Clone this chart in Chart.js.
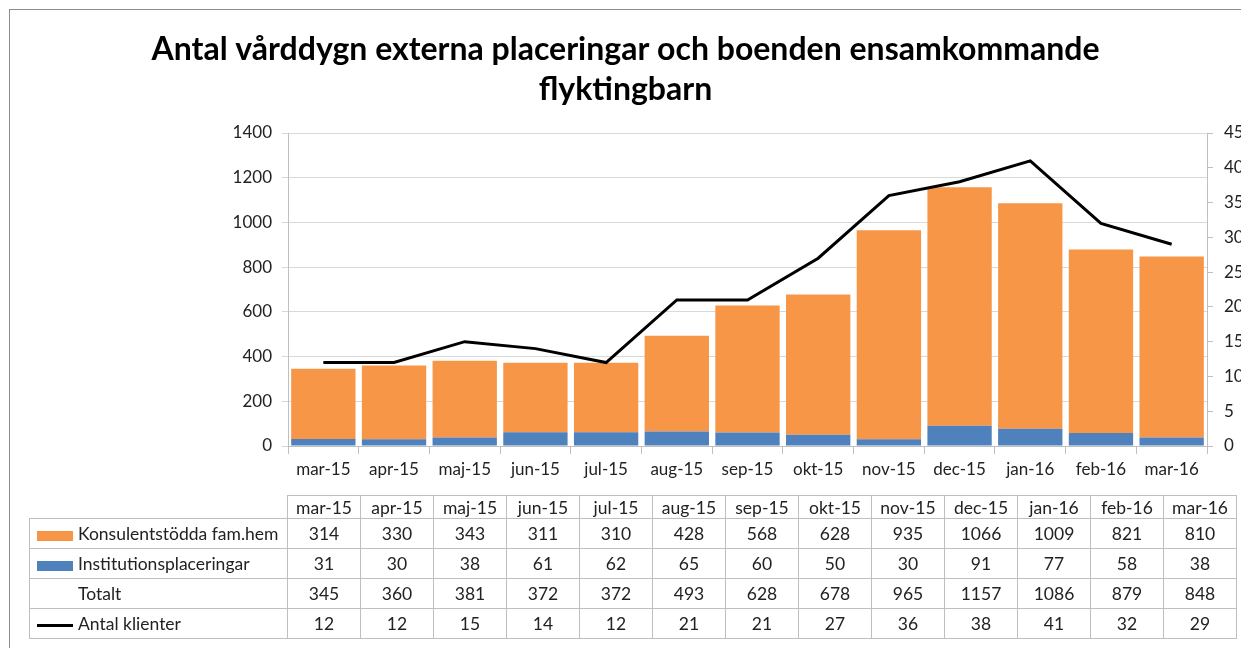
<!DOCTYPE html>
<html>
<head>
<meta charset="utf-8">
<script src="https://cdn.jsdelivr.net/npm/chart.js@4"></script>
<style>
  html, body { margin: 0; padding: 0; background: #fff; overflow: hidden; }
  #wrap { position: relative; width: 1241px; height: 648px; }
  #frame { position: absolute; left: 9px; top: 9px; width: 1300px; height: 700px; border: 1.5px solid #8c8c8c; box-sizing: border-box; }
  canvas { position: absolute; left: 0; top: 0; }
  #tbl { position: absolute; left: 29px; top: 495px; border-collapse: collapse; font-family: Lato, sans-serif; font-size: 17.5px; color: #222; }
  #tbl td { border: 1px solid #bfbfbf; text-align: center; padding: 0; height: 29px; width: 72px; }
  #tbl tr.head td { height: 22px; }
  #tbl td.lbl { text-align: left; width: 257px; white-space: nowrap; }
  #tbl td.blank { border: none; }
  .key { display: inline-block; width: 36px; margin: 0 5px 0 7px; vertical-align: middle; }
</style>
</head>
<body>
<div id="wrap">
  <div id="frame"></div>
  <canvas id="myChart" width="1241" height="648"></canvas>
  <table id="tbl"></table>
</div>
<script>
const months = ['mar-15', 'apr-15', 'maj-15', 'jun-15', 'jul-15', 'aug-15', 'sep-15', 'okt-15', 'nov-15', 'dec-15', 'jan-16', 'feb-16', 'mar-16'];
const konsulent = [314, 330, 343, 311, 310, 428, 568, 628, 935, 1066, 1009, 821, 810];
const institution = [31, 30, 38, 61, 62, 65, 60, 50, 30, 91, 77, 58, 38];
const totalt = [345, 360, 381, 372, 372, 493, 628, 678, 965, 1157, 1086, 879, 848];
const klienter = [12, 12, 15, 14, 12, 21, 21, 27, 36, 38, 41, 32, 29];

const orange = '#F79646';
const blue = '#4F81BD';
const font = { family: 'Lato', size: 17 };

const ctx = document.getElementById('myChart');

new Chart(ctx, {
    type: 'bar',
    data: {
        labels: months,
        datasets: [
            {
                type: 'line',
                label: 'Antal klienter',
                data: klienter,
                yAxisID: 'y1',
                borderColor: '#000',
                borderWidth: 3,
                pointRadius: 0,
                tension: 0
            },
            {
                label: 'Institutionsplaceringar',
                data: institution,
                backgroundColor: blue,
                stack: 's'
            },
            {
                label: 'Konsulentstödda fam.hem',
                data: konsulent,
                backgroundColor: orange,
                stack: 's'
            }]
    },
    options: {
        responsive: false,
        animation: false,
        layout: { padding: { left: 10, top: 2, right: 0, bottom: 0 } },
        barPercentage: 0.91,
        categoryPercentage: 1,
        plugins: {
            legend: { display: false },
            tooltip: { enabled: false },
            title: {
                display: true,
                text: ['Antal vårddygn externa placeringar och boenden ensamkommande', 'flyktingbarn'],
                font: { family: 'Lato', size: 32, weight: 'bold', lineHeight: 1.25 },
                color: '#000',
                padding: { top: 28, bottom: 23 }
            }
        },
        scales: {
            x: {
                stacked: true,
                offset: true,
                grid: { offset: true, drawOnChartArea: false, tickLength: 8, color: '#bfbfbf' },
                border: { color: '#bfbfbf' },
                ticks: { font: font, color: '#222', padding: 5, maxRotation: 0 },
                afterFit: s => { s.height = 202; }
            },
            y: {
                stacked: true,
                min: 0,
                max: 1400,
                ticks: { stepSize: 200, font: font, color: '#222', padding: 10, callback: v => String(v) },
                grid: { color: '#d9d9d9', tickLength: 6 },
                border: { color: '#bfbfbf' },
                afterFit: s => { s.width = 278; }
            },
            y1: {
                position: 'right',
                min: 0,
                max: 45,
                ticks: { stepSize: 5, font: font, color: '#222', padding: 11, callback: v => String(v) },
                grid: { drawOnChartArea: false, tickLength: 6, color: '#bfbfbf' },
                border: { color: '#bfbfbf' },
                afterFit: s => { s.width = 34; }
            }
        }
    }
});

// data table under the chart
const tbl = document.getElementById('tbl');
const rows = [
    { name: 'Konsulentstödda fam.hem', key: '<span class="key" style="height:10px;background:' + orange + '"></span>', vals: konsulent },
    { name: 'Institutionsplaceringar', key: '<span class="key" style="height:10px;background:' + blue + '"></span>', vals: institution },
    { name: 'Totalt', key: '<span class="key" style="height:3px"></span>', vals: totalt },
    { name: 'Antal klienter', key: '<span class="key" style="height:3px;background:#000"></span>', vals: klienter }
];
let html = '<tr class="head"><td class="blank lbl"></td>' + months.map(m => '<td>' + m + '</td>').join('') + '</tr>';
rows.forEach(r => {
    html += '<tr><td class="lbl">' + r.key + r.name + '</td>' + r.vals.map(v => '<td>' + v + '</td>').join('') + '</tr>';
});
tbl.innerHTML = html;
</script>
</body>
</html>
